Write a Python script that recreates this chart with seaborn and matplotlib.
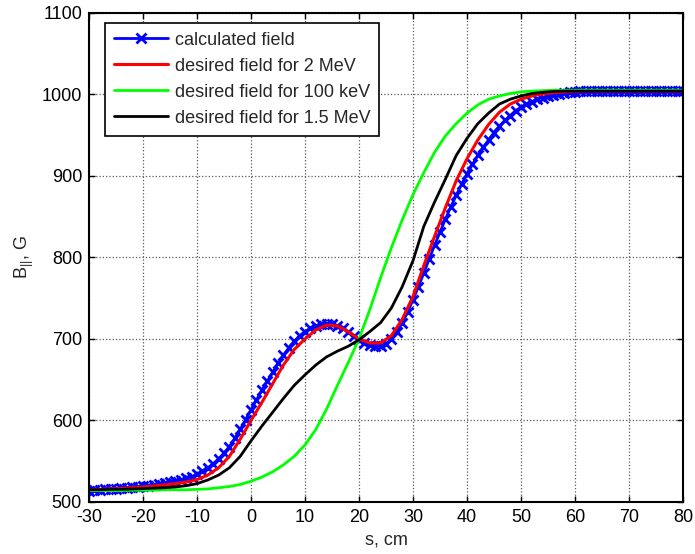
import numpy as np
import pandas as pd
import matplotlib
matplotlib.use("Agg")
import matplotlib.pyplot as plt
import seaborn as sns

# Axial position (cm) for the design curves, 2 cm step
s_design = list(range(-30, 81, 2))

# Desired field for 2 MeV beam (G)
b_2mev = [515, 515.5, 516, 516.5, 517.5, 518.5, 519.5, 521, 522.5, 524.5,
          527.5, 533, 542, 556, 577, 600, 622, 645, 668, 687,
          700, 711, 717, 716, 709, 700, 695, 695, 704, 724,
          752, 790, 826, 861, 894, 921, 944, 963, 978, 988,
          994, 998, 1000.5, 1002, 1003, 1003.5, 1004, 1004, 1004, 1004,
          1004, 1004, 1004, 1004, 1004, 1004]

# Desired field for 100 keV beam (G)
b_100kev = [514, 514, 514, 514, 514.5, 514.5, 514.5, 515, 515, 515,
            515.5, 516, 517.5, 519, 521.5, 525.5, 530.5, 537, 545.5, 556,
            570, 589, 614, 643, 671, 700, 736, 775, 812, 846,
            877, 904, 929, 949, 964, 977, 987, 994, 998, 1001,
            1003, 1004, 1004.5, 1005, 1005, 1005, 1005, 1005, 1005, 1005,
            1005, 1005, 1005, 1005, 1005, 1005]

# Desired field for 1.5 MeV beam (G)
b_15mev = [515, 515, 515.5, 515.5, 516, 516.5, 517, 517.5, 518.5, 520,
           522.5, 527, 533, 542, 556, 575, 593, 610, 627, 643,
           656, 668, 678, 685, 691, 699, 709, 720, 738, 764,
           796, 838, 868, 896, 925, 946, 964, 977, 988, 994,
           998, 1001, 1002.5, 1003.5, 1004, 1004, 1004, 1004, 1004, 1004,
           1004, 1004, 1004, 1004, 1004, 1004]

# Calculated field, 1 cm step
s_calc = list(range(-30, 81))
b_calc = [514, 514.5, 515, 515.5, 516, 516.5, 517, 517.5, 518, 518.5,
          519.5, 520, 521, 522, 523, 524, 525.5, 527, 529, 531,
          534, 537.5, 542, 547, 553, 560, 568, 578, 589, 601,
          613, 625, 637, 648, 659, 670, 680, 689, 697, 704,
          709, 713, 716, 718, 718.5, 718, 716, 713, 709, 704,
          699, 695, 692, 691, 691.5, 694, 700, 709, 720, 733,
          748, 764, 781, 798, 815, 831, 847, 862, 876, 890,
          902, 914, 925, 935, 944, 953, 961, 968, 974, 980,
          984, 988, 991, 994, 996, 998, 999.5, 1000.5, 1001.5, 1002.5,
          1003, 1003.5, 1004, 1004, 1004, 1004, 1004, 1004, 1004, 1004,
          1004, 1004, 1004, 1004, 1004, 1004, 1004, 1004, 1004, 1004,
          1004]

x_ticks = list(range(-30, 81, 10))
y_ticks = list(range(500, 1101, 100))

sns.set_style("ticks")
plt.rcParams["font.family"] = ["Liberation Sans", "DejaVu Sans"]
plt.rcParams["mathtext.fontset"] = "custom"
plt.rcParams["mathtext.rm"] = "Liberation Sans"
plt.rcParams["mathtext.it"] = "Liberation Sans"
plt.rcParams["axes.unicode_minus"] = False

fig = plt.figure(figsize=(6.95, 5.54), dpi=100)
ax = fig.add_axes([89 / 695, 1 - 502 / 554, (683 - 89) / 695, (502 - 12.8) / 554])

calc = pd.DataFrame({"s": s_calc, "B": b_calc})
design = pd.DataFrame({"s": s_design, "red": b_2mev, "green": b_100kev, "black": b_15mev})

sns.lineplot(data=calc, x="s", y="B", ax=ax, color="#0000ff", linewidth=2,
             marker="x", markersize=7, markeredgewidth=2,
             markeredgecolor="#0000ff", label="calculated field")
sns.lineplot(data=design, x="s", y="red", ax=ax, color="#ff0000", linewidth=2.2,
             label="desired field for 2 MeV")
sns.lineplot(data=design, x="s", y="green", ax=ax, color="#00ff00", linewidth=2,
             label="desired field for 100 keV")
sns.lineplot(data=design, x="s", y="black", ax=ax, color="#000000", linewidth=2,
             label="desired field for 1.5 MeV")

ax.set_xlim(-30, 80)
ax.set_ylim(500, 1100)
ax.set_xticks(x_ticks)
ax.set_yticks(y_ticks)
ax.grid(True, linestyle=":", color="0.35", linewidth=0.9)
ax.set_axisbelow(True)

for sp in ax.spines.values():
    sp.set_visible(True)
    sp.set_linewidth(1.5)
    sp.set_color("black")

ax.tick_params(direction="in", length=4, width=1, top=True, right=True,
               labelsize=13, colors="black", pad=5)

ax.set_xlabel("s, cm", fontsize=13, labelpad=4)
ax.set_ylabel(r"B$_{||}$, G", fontsize=13, labelpad=4)

leg = ax.legend(loc="upper left", bbox_to_anchor=(0.027, 0.98), fontsize=13,
                frameon=True, fancybox=False, framealpha=1, edgecolor="black",
                handlelength=3.0, handletextpad=0.35, labelspacing=0.5,
                borderpad=0.5, borderaxespad=0)
leg.get_frame().set_linewidth(1.2)

fig.savefig("out.png", dpi=100)
